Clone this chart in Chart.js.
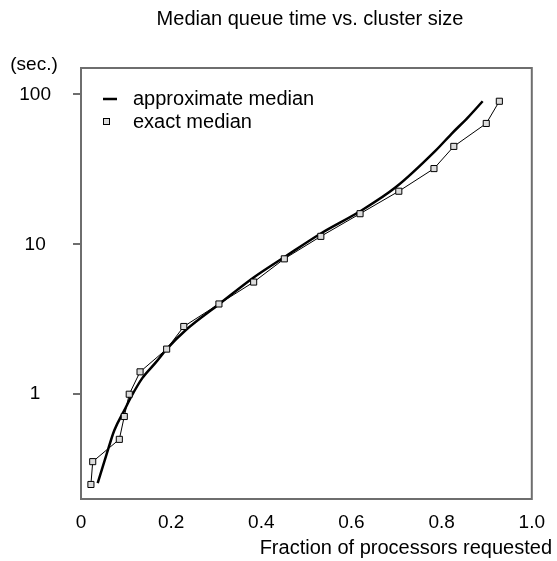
<!DOCTYPE html>
<html>
<head>
<meta charset="utf-8">
<script src="https://cdn.jsdelivr.net/npm/chart.js@4.4.1/dist/chart.umd.min.js"></script>
<style>
  html, body { margin: 0; padding: 0; background: #fff; }
</style>
</head>
<body>
<canvas id="chart" width="557" height="561"></canvas>
<script>
  // ---- Data ----
  const exactX = [0.022, 0.026, 0.085, 0.096, 0.107, 0.131, 0.190, 0.228, 0.306, 0.383, 0.451, 0.532, 0.619, 0.705, 0.783, 0.827, 0.899, 0.928];
  const exactY = [0.25, 0.355, 0.5, 0.71, 1.0, 1.41, 2.0, 2.83, 4.0, 5.6, 8.0, 11.3, 16.0, 22.6, 32.0, 45.0, 64.0, 90.0];
  const approxX = [0.037, 0.057, 0.074, 0.096, 0.112, 0.136, 0.166, 0.190, 0.232, 0.306, 0.383, 0.451, 0.532, 0.619, 0.698, 0.786, 0.823, 0.858, 0.891];
  const approxY = [0.255, 0.40, 0.575, 0.78, 0.97, 1.28, 1.63, 2.0, 2.67, 3.98, 6.0, 8.2, 11.8, 16.6, 24.0, 42.0, 55.0, 70.0, 90.0];
  const yTicks = [1, 10, 100];
  const xTicks = [0, 0.2, 0.4, 0.6, 0.8, 1.0];

  const FONT = '"Liberation Sans", Arial, Helvetica, sans-serif';
  const toPts = (xs, ys) => xs.map((x, i) => ({ x, y: ys[i] }));

  // ---- Frame, texts and legend ----
  const extras = {
    id: 'extras',
    afterDatasetsDraw(chart) {
      const { ctx, chartArea: a } = chart;
      ctx.save();
      ctx.strokeStyle = '#6e6e6e';
      ctx.lineWidth = 2;
      ctx.strokeRect(a.left, a.top, a.right - a.left, a.bottom - a.top);

      ctx.fillStyle = '#000';
      ctx.font = '20px ' + FONT;
      ctx.textBaseline = 'middle';
      ctx.textAlign = 'center';
      ctx.fillText('Median queue time vs. cluster size', 310, 19);
      ctx.font = '19px ' + FONT;
      ctx.fillText('(sec.)', 34, 65);
      ctx.font = '20px ' + FONT;
      ctx.textAlign = 'right';
      ctx.fillText('Fraction of processors requested', 552, 548);

      // legend
      ctx.textAlign = 'left';
      ctx.fillText('approximate median', 133, 99);
      ctx.fillText('exact median', 133, 122);
      ctx.strokeStyle = '#000';
      ctx.lineWidth = 2.5;
      ctx.beginPath();
      ctx.moveTo(103, 99);
      ctx.lineTo(117, 99);
      ctx.stroke();
      ctx.lineWidth = 1;
      ctx.fillStyle = '#dcdcdc';
      ctx.fillRect(103.5, 118.5, 6, 6);
      ctx.strokeRect(103.5, 118.5, 6, 6);
      ctx.restore();
    }
  };

  new Chart(document.getElementById('chart'), {
    type: 'line',
    data: {
      datasets: [
        {
          label: 'approximate median',
          data: toPts(approxX, approxY),
          borderColor: '#000',
          borderWidth: 2.5,
          pointRadius: 0,
          cubicInterpolationMode: 'monotone',
          order: 2
        },
        {
          label: 'exact median',
          data: toPts(exactX, exactY),
          borderColor: '#000',
          borderWidth: 1,
          pointStyle: 'rect',
          pointRadius: 4.3,
          pointBorderWidth: 1,
          pointBorderColor: '#000',
          pointBackgroundColor: '#dcdcdc',
          order: 1
        }
      ]
    },
    options: {
      responsive: false,
      animation: false,
      layout: { padding: { top: 68, right: 19, left: 0, bottom: 0 } },
      plugins: {
        legend: { display: false },
        title: { display: false },
        tooltip: { enabled: false }
      },
      scales: {
        x: {
          type: 'linear',
          min: 0,
          max: 1,
          afterBuildTicks: s => { s.ticks = xTicks.map(v => ({ value: v })); },
          afterFit: s => { s.height = 62; },
          grid: { display: false, drawTicks: false },
          border: { display: false },
          ticks: {
            color: '#000',
            font: { family: FONT, size: 19 },
            padding: 12,
            maxRotation: 0,
            callback: v => (v === 0 ? '0' : v.toFixed(1))
          }
        },
        y: {
          type: 'logarithmic',
          min: 0.2,
          max: 150,
          afterBuildTicks: s => { s.ticks = yTicks.map(v => ({ value: v })); },
          afterFit: s => { s.width = 81; },
          grid: { drawOnChartArea: false, drawTicks: true, tickLength: 8, color: '#6e6e6e', lineWidth: 2 },
          border: { display: false },
          ticks: {
            color: '#000',
            font: { family: FONT, size: 19 },
            padding: 22,
            crossAlign: 'center',
            callback: v => String(v)
          }
        }
      }
    },
    plugins: [extras]
  });
</script>
</body>
</html>
